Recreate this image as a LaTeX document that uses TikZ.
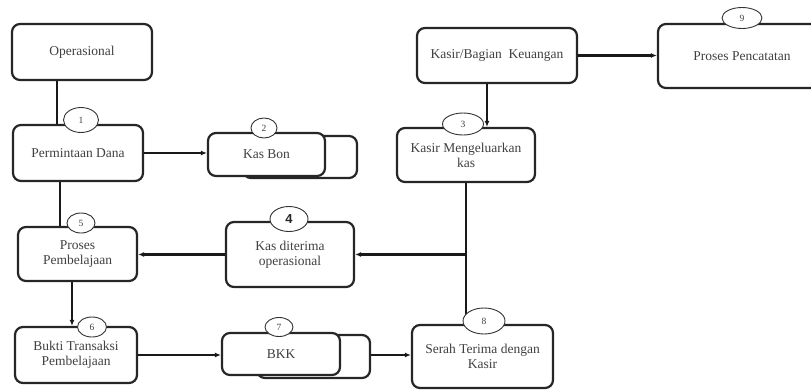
\documentclass[tikz,border=0pt]{standalone}
\usepackage{fontspec}
\setmainfont{Liberation Serif}
\setsansfont{Liberation Sans}
\usetikzlibrary{arrows.meta,shapes.geometric}
\begin{document}
\begin{tikzpicture}[x=1pt,y=-1pt,
  box/.style={draw=black!85,line width=2.2pt,rounded corners=8pt,fill=white,
    text=black!75,font=\fontsize{13.5}{15}\selectfont,align=center,inner sep=2pt},
  num/.style={draw=black!80,line width=0.9pt,ellipse,fill=white,inner sep=0pt,
    text=black!75,font=\fontsize{9.5}{10}\selectfont},
  line/.style={draw=black!90,line width=2.2pt},
  arr/.style={line,-{Latex[length=6pt,width=5pt]}}]
\useasboundingbox (0,0) rectangle (811,389);
\clip (0,0) rectangle (811,389);
% boxes
\node[box,minimum width=140pt,minimum height=56pt] (op) at (82,52) {Operasional};
\node[box,minimum width=130pt,minimum height=56pt] (pd) at (78,153) {Permintaan Dana};
\node[box,minimum width=114pt,minimum height=42pt] (kbb) at (300,157) {};
\node[box,minimum width=117pt,minimum height=43pt] (kb) at (266.5,154.5) {Kas Bon};
\node[box,minimum width=160pt,minimum height=55pt] (kk) at (497,55.5) {Kasir/Bagian\ \ Keuangan};
\node[box,minimum width=168pt,minimum height=64pt] (pp) at (742,56) {Proses Pencatatan};
\node[box,minimum width=138pt,minimum height=54pt] (km) at (466,155) {Kasir Mengeluarkan\\kas};
\node[box,minimum width=119pt,minimum height=54pt] (pb) at (77.5,254) {Proses\\Pembelajaan};
\node[box,minimum width=128pt,minimum height=65pt] (kd) at (290,254.5) {Kas diterima\\operasional};
\node[box,minimum width=122pt,minimum height=56pt] (bt) at (76,355) {Bukti Transaksi\\Pembelajaan};
\node[box,minimum width=113pt,minimum height=43pt] (bkkb) at (313.5,356.5) {};
\node[box,minimum width=118pt,minimum height=42pt] (bkk) at (281,354) {BKK};
\node[box,minimum width=141pt,minimum height=63pt] (st) at (482.5,356.5) {Serah Terima dengan\\Kasir};
% connectors
\draw[line] ([xshift=-25pt]op.south) -- ([xshift=-25pt]op.south |- pd.north);
\draw[line] ([xshift=-18pt]pd.south) -- ([xshift=-18pt]pd.south |- pb.north);
\draw[arr] (pd.east) -- (pd.east -| kb.west);
\draw[arr] (kk.east) -- (kk.east -| pp.west);
\draw[arr] ([xshift=-10pt]kk.south) -- ([xshift=-10pt]kk.south |- km.north);
\coordinate (j) at (km.south |- kd.east);
\draw[line] (km.south) -- (km.south |- st.north);
\draw[arr] (j) -- (kd.east);
\draw[arr] (kd.west) -- (kd.west -| pb.east);
\draw[arr] ([xshift=-5.5pt]pb.south) -- ([xshift=-5.5pt]pb.south |- bt.north);
\draw[arr] (bt.east) -- (bt.east -| bkk.west);
\draw[arr] (bt.east -| bkkb.east) -- (bt.east -| st.west);
% numbers
\node[num,minimum width=35pt,minimum height=25pt] (n1) at (81,120) {1};
\node[num,minimum width=26pt,minimum height=20pt] (n2) at (264,128) {2};
\node[num,minimum width=41pt,minimum height=22pt] (n3) at (463,124) {3};
\node[num,minimum width=38pt,minimum height=25pt,font=\sffamily\bfseries\fontsize{13}{14}\selectfont,text=black!85] (n4) at (289,219) {4};
\node[num,minimum width=28pt,minimum height=20pt] (n5) at (81,223) {5};
\node[num,minimum width=29pt,minimum height=20pt] (n6) at (92,327) {6};
\node[num,minimum width=28pt,minimum height=19pt] (n7) at (279,327) {7};
\node[num,minimum width=42pt,minimum height=26pt] (n8) at (484,321) {8};
\node[num,minimum width=40pt,minimum height=21pt] (n9) at (742,18) {9};
\end{tikzpicture}
\end{document}
